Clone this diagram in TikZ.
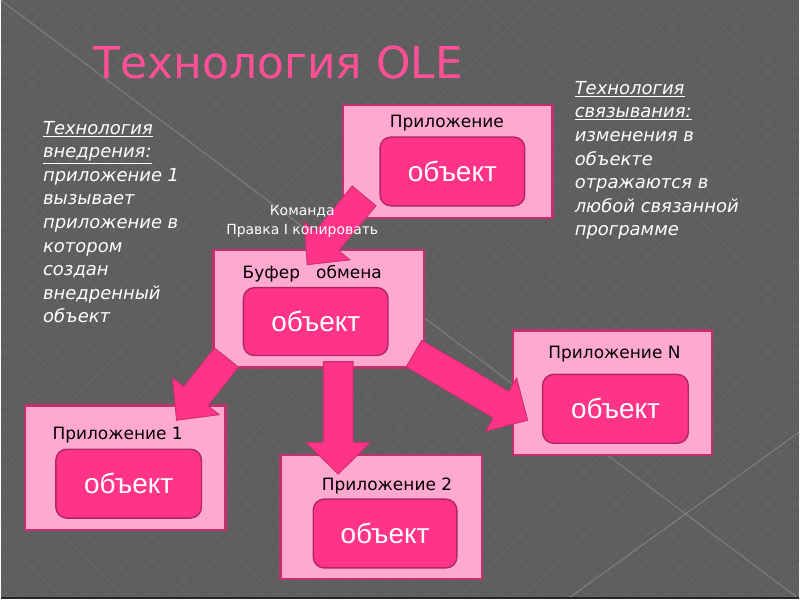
\documentclass[tikz,border=0pt]{standalone}
\usepackage{fontspec}
\setmainfont{DejaVu Sans}
\newfontfamily\objfont{Liberation Sans}
\usetikzlibrary{calc,patterns.meta}
\definecolor{bg}{HTML}{5E5E5E}
\definecolor{bgline}{HTML}{8C8C8C}
\definecolor{hatch}{HTML}{686868}
\definecolor{boxfill}{HTML}{FFA9D0}
\definecolor{boxline}{HTML}{C2306E}
\definecolor{objfill}{HTML}{FF3388}
\definecolor{objline}{HTML}{B02566}
\definecolor{titlepink}{HTML}{FF4F97}
\newcommand\blockarrow[5]{%
  \coordinate (ba) at ($(#2)!#5!(#1)$);
  \draw[arrowbody] ($(#1)!#3!90:(#2)$) -- ($(ba)!#3!90:(#2)$) -- ($(ba)!#4!90:(#2)$) -- (#2)
    -- ($(ba)!#4!-90:(#2)$) -- ($(ba)!#3!-90:(#2)$) -- ($(#1)!#3!-90:(#2)$) -- cycle;}
\tikzset{
  appbox/.style={draw=boxline, fill=boxfill, line width=2.4pt, inner sep=0pt},
  objbox/.style={draw=objline, fill=objfill, line width=1.4pt, rounded corners=11pt, inner sep=0pt,
    text=white, font=\objfont\fontsize{28pt}{30pt}\selectfont},
  applabel/.style={text=black, font=\fontsize{17pt}{20pt}\selectfont, inner sep=0pt},
  arrowbody/.style={draw=boxline, fill=objfill, line width=0.8pt, line join=miter},
  sidetext/.style={text=white, align=left, inner sep=0pt, anchor=north west,
    font=\fontsize{18pt}{23.6pt}\selectfont\itshape},
}
\begin{document}
\begin{tikzpicture}[x=1pt,y=-1pt]
% background
\fill[bg] (0,0) rectangle (800,600);
\fill[pattern={Lines[angle=45,distance=9pt,line width=0.4pt]}, pattern color=hatch] (0,0) rectangle (800,600);
\fill[pattern={Lines[angle=-45,distance=9pt,line width=0.4pt]}, pattern color=hatch] (0,0) rectangle (800,600);
\draw[bgline, line width=0.7pt] (0,0) -- (800,600);
\draw[bgline, line width=0.7pt] (568,600) -- (800,433);
\draw[black!85, line width=2pt] (0,599) -- (800,599);
\useasboundingbox (0,0) rectangle (800,600);

% title
\node[text=titlepink, font=\fontsize{44pt}{48pt}\selectfont, inner sep=0pt] (title) at (278,62) {Технология OLE};

% boxes
\node[appbox, minimum width=210pt, minimum height=113pt] (top) at (448,161.5) {};
\node[appbox, minimum width=211pt, minimum height=118pt] (buf) at (318.5,309) {};
\node[appbox, minimum width=201pt, minimum height=125pt] (app1) at (124.5,468.5) {};
\node[appbox, minimum width=202pt, minimum height=124pt] (app2) at (381,518) {};
\node[appbox, minimum width=200pt, minimum height=125pt] (appN) at (613,393.5) {};

\node[objbox, minimum width=145pt, minimum height=69pt] (topobj) at (452.5,171.5) {объект};
\node[objbox, minimum width=145pt, minimum height=68pt] (bufobj) at (315.5,322) {объект};
\node[objbox, minimum width=146pt, minimum height=69pt] (app1obj) at (128,484.5) {объект};
\node[objbox, minimum width=144pt, minimum height=69pt] (app2obj) at (385,534.5) {объект};
\node[objbox, minimum width=146pt, minimum height=69pt] (appNobj) at (616,409.5) {объект};

\node[applabel] (toplab) at (447,123) {Приложение};
\node[applabel] (buflab) at (312,274) {Буфер\ \ \ обмена};
\node[applabel] (app1lab) at (117,436) {Приложение 1};
\node[applabel] (app2lab) at (387,487) {Приложение 2};
\node[applabel] (appNlab) at (615,355) {Приложение N};

% arrows
\coordinate (a1s) at (364,196);
\coordinate (a1e) at (307,265);
\coordinate (a2s) at (226,358);
\coordinate (a2e) at (176,421);
\coordinate (a3s) at (338,362);
\coordinate (a3e) at (338,475);
\coordinate (a4s) at (414,354);
\coordinate (a4e) at (528,421);
\blockarrow{a1s}{a1e}{15.5pt}{30pt}{31pt}
\blockarrow{a2s}{a2e}{15.5pt}{30pt}{31pt}
\blockarrow{a3s}{a3e}{15pt}{32.5pt}{32pt}
\blockarrow{a4s}{a4e}{15.5pt}{31pt}{31pt}

% command text
\node[text=white, align=center, inner sep=0pt, font=\fontsize{14pt}{19pt}\selectfont] (cmd) at (302,222) {Команда\\Правка I копировать};

% side texts
\node[sidetext] (lefttext) at (42,121) {\underline{Технология}\\\underline{внедрения:}\\приложение 1\\вызывает\\приложение в\\котором\\создан\\внедренный\\объект};
\node[sidetext] (righttext) at (575,81) {\underline{Технология}\\\underline{связывания:}\\изменения в\\объекте\\отражаются в\\любой связанной\\программе};
\end{tikzpicture}
\end{document}
